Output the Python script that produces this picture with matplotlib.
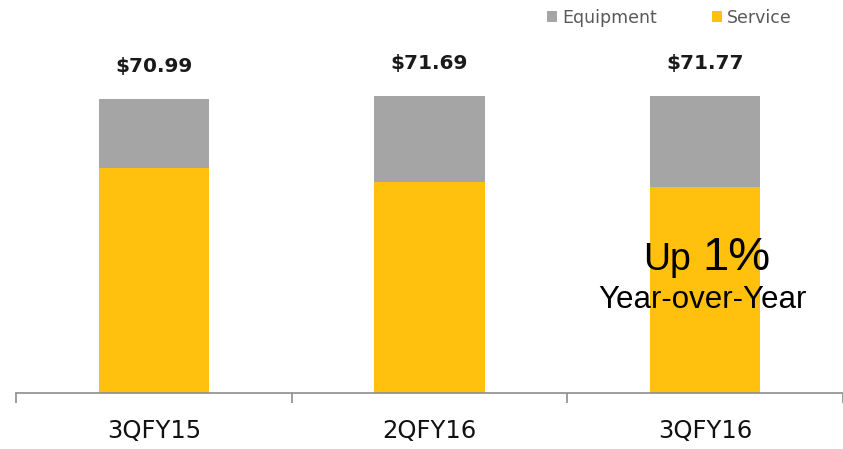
import matplotlib
matplotlib.use("Agg")
import matplotlib.pyplot as plt
from matplotlib.patches import Patch

# ---- data ----
categories = ["3QFY15", "2QFY16", "3QFY16"]
totals = [70.99, 71.69, 71.77]
service = [54.3, 50.9, 49.7]
equipment = [t - s for t, s in zip(totals, service)]
total_labels = ["$70.99", "$71.69", "$71.77"]

YELLOW = "#FFC10E"
GRAY = "#A5A5A5"
AXIS = "#8C8C8C"

W, H = 843, 449
fig = plt.figure(figsize=(W / 100, H / 100), dpi=100)
ax = fig.add_axes([16 / W, 56 / H, (W - 16) / W, 393 / H])

x = list(range(len(categories)))
b_sv = ax.bar(x, service, width=0.40, color=YELLOW, label="Service", zorder=2)
b_eq = ax.bar(x, equipment, width=0.40, bottom=service, color=GRAY,
              label="Equipment", zorder=2)

ax.set_xlim(-0.5, -0.5 + (W - 16) / 277)
ax.set_ylim(0, 95)

for s in ["top", "right", "left"]:
    ax.spines[s].set_visible(False)
ax.spines["bottom"].set_color(AXIS)
ax.spines["bottom"].set_linewidth(1.2)
ax.set_yticks([])

ax.set_xticks(x)
ax.set_xticklabels(categories, fontsize=17.5, color="#111111",
                   family=["DejaVu Sans"])
ax.tick_params(axis="x", which="major", length=0, pad=19)
ax.set_xticks([-0.5, 0.5, 1.5, 2.5], minor=True)
ax.tick_params(axis="x", which="minor", length=7.5, width=1.2, color=AXIS,
               direction="out")

# total labels above bars
for xi, tot, lab in zip(x, totals, total_labels):
    ax.annotate(lab, xy=(xi, tot), xytext=(0, 27), textcoords="offset pixels",
                ha="center", va="baseline", fontsize=14.5, fontweight="bold",
                color="#1a1a1a", family=["DejaVu Sans"])

# callout on last bar
ax.annotate("Up", xy=(2, 0), xytext=(694 - 708.5, 393 - 270),
            textcoords="offset pixels", ha="right", va="baseline",
            fontsize=27, color="black", family=["Liberation Sans"])
ax.annotate("1%", xy=(2, 0), xytext=(706 - 708.5, 393 - 270),
            textcoords="offset pixels", ha="left", va="baseline",
            fontsize=34, color="black", family=["Liberation Sans"])
ax.annotate("Year-over-Year", xy=(2, 0), xytext=(706 - 708.5, 393 - 308),
            textcoords="offset pixels", ha="center", va="baseline",
            fontsize=22.5, color="black", family=["Liberation Sans"])

# legend
handles = [Patch(facecolor=GRAY, label="Equipment"),
           Patch(facecolor=YELLOW, label="Service")]
leg = fig.legend(handles=handles, loc="center left",
                 bbox_to_anchor=(547 / W, 1 - 18 / H), ncol=2, frameon=False,
                 fontsize=12.5, handlelength=0.6, handleheight=0.6,
                 handletextpad=0.25, columnspacing=3.2, borderpad=0,
                 borderaxespad=0)
for t in leg.get_texts():
    t.set_color("#595959")

fig.savefig("out.png", dpi=100)
